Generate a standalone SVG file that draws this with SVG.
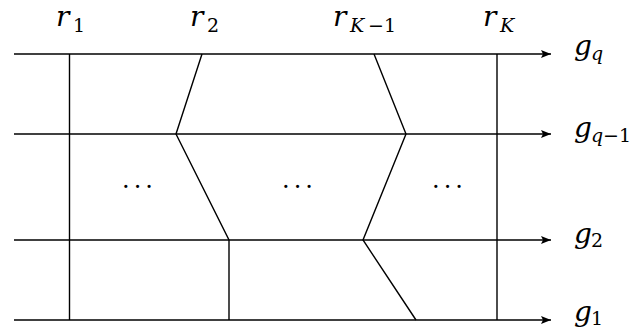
<svg xmlns="http://www.w3.org/2000/svg" width="642" height="329" viewBox="0 0 642 329">
<style>
.ln{stroke:#000;stroke-width:1.4;fill:none}
.m{font-family:"DejaVu Serif","Liberation Serif",serif;font-style:italic;font-size:28px;fill:#000}
.s{font-family:"DejaVu Serif","Liberation Serif",serif;font-size:19px;fill:#000}
.si{font-family:"DejaVu Serif","Liberation Serif",serif;font-style:italic;font-size:19px;fill:#000}
.d{font-family:"DejaVu Serif","Liberation Serif",serif;font-size:24px;fill:#000;letter-spacing:4px}
</style>
<defs>
<marker id="ah" viewBox="0 0 10 8" refX="10" refY="4" markerWidth="10" markerHeight="8" markerUnits="userSpaceOnUse" orient="auto">
<path d="M0,0 L10,4 L0,8 L2,4 Z" fill="#000"/>
</marker>
</defs>
<g id="connectors">
<line class="ln" x1="14" y1="54" x2="551" y2="54" marker-end="url(#ah)"/>
<line class="ln" x1="14" y1="134" x2="551" y2="134" marker-end="url(#ah)"/>
<line class="ln" x1="14" y1="240" x2="551" y2="240" marker-end="url(#ah)"/>
<line class="ln" x1="14" y1="320" x2="551" y2="320" marker-end="url(#ah)"/>
<line class="ln" x1="69.5" y1="54" x2="69.5" y2="320"/>
<line class="ln" x1="497" y1="54" x2="497" y2="320"/>
<polyline class="ln" points="202,54 176,134 229,240 229,320"/>
<polyline class="ln" points="374,54 406,134 363,240 416,320"/>
</g>
<g id="r1"><text class="m" x="56" y="26">r</text><text class="s" x="73" y="32">1</text></g>
<g id="r2"><text class="m" x="190" y="26">r</text><text class="s" x="207" y="32">2</text></g>
<g id="rK-1"><text class="m" x="333" y="26">r</text><text class="si" x="350" y="32">K</text><text class="s" x="368" y="32">−1</text></g>
<g id="rK"><text class="m" x="483" y="26">r</text><text class="si" x="500" y="32">K</text></g>
<g id="gq"><text class="m" x="574" y="55">g</text><text class="si" x="591" y="60">q</text></g>
<g id="gq-1"><text class="m" x="574" y="137">g</text><text class="si" x="591" y="142">q</text><text class="s" x="603" y="142">−1</text></g>
<g id="g2"><text class="m" x="574" y="243">g</text><text class="s" x="591" y="247">2</text></g>
<g id="g1"><text class="m" x="574" y="321">g</text><text class="s" x="591" y="325">1</text></g>
<g id="dots">
<text class="d" x="122" y="188">...</text>
<text class="d" x="282" y="188">...</text>
<text class="d" x="432" y="188">...</text>
</g>
</svg>
